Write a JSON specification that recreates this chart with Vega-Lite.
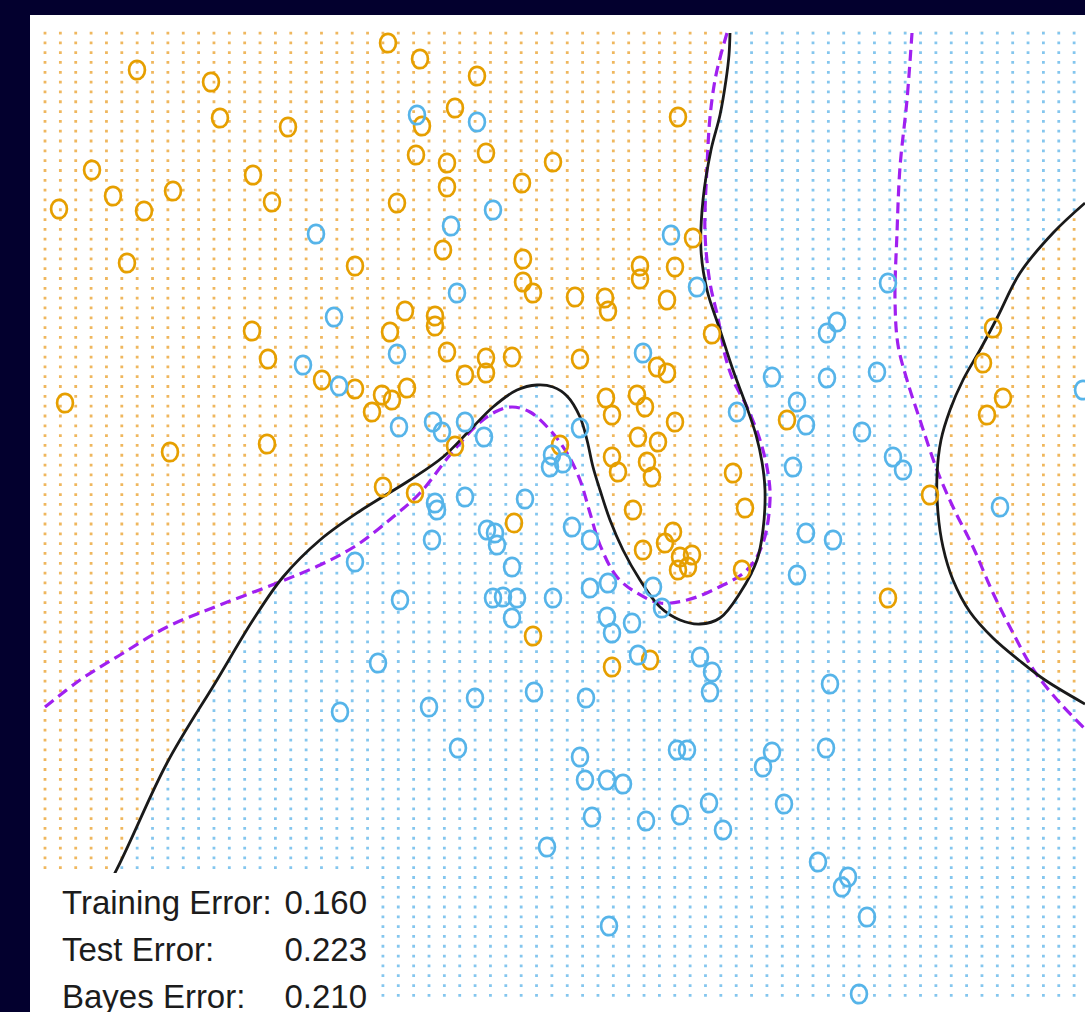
{
  "$schema": "https://vega.github.io/schema/vega-lite/v6.json",
  "width": 1055,
  "height": 997,
  "autosize": {"type": "none"},
  "padding": {"left": 30, "top": 15, "right": 0, "bottom": 0},
  "background": "#03002e",
  "config": {"view": {"fill": "white", "stroke": null}},
  "datasets": {
    "grid": [{"x0": 4.3, "x1": 108.6, "y0": 3.15, "y1": 100.0}],
    "sieve": [{"xa": 3.0, "xb": 108.5, "ya": 1.5, "yb": 101.2, "xm": 55.75, "ym": 51.35}],
    "blueRegion": [
      {"i": 0, "x": 4.8, "y": 100.0}, {"i": 1, "x": 11.7, "y": 86.9}, {"i": 2, "x": 16.7, "y": 76.3},
      {"i": 3, "x": 21.7, "y": 68.0}, {"i": 4, "x": 25.3, "y": 62.0}, {"i": 5, "x": 28.3, "y": 57.7},
      {"i": 6, "x": 32.0, "y": 54.0}, {"i": 7, "x": 36.0, "y": 51.1}, {"i": 8, "x": 41.0, "y": 48.0},
      {"i": 9, "x": 44.3, "y": 45.7}, {"i": 10, "x": 47.0, "y": 43.0}, {"i": 11, "x": 49.3, "y": 40.7},
      {"i": 12, "x": 51.7, "y": 39.0}, {"i": 13, "x": 53.7, "y": 38.5}, {"i": 14, "x": 55.3, "y": 38.7},
      {"i": 15, "x": 56.7, "y": 39.6}, {"i": 16, "x": 58.0, "y": 41.7}, {"i": 17, "x": 58.7, "y": 44.0},
      {"i": 18, "x": 59.3, "y": 46.7}, {"i": 19, "x": 60.0, "y": 49.0}, {"i": 20, "x": 61.0, "y": 52.0},
      {"i": 21, "x": 62.3, "y": 55.0}, {"i": 22, "x": 64.0, "y": 58.0}, {"i": 23, "x": 66.0, "y": 60.7},
      {"i": 24, "x": 68.0, "y": 62.0}, {"i": 25, "x": 70.0, "y": 62.4}, {"i": 26, "x": 72.0, "y": 61.8},
      {"i": 27, "x": 74.0, "y": 59.3}, {"i": 28, "x": 75.7, "y": 56.0}, {"i": 29, "x": 76.3, "y": 53.0},
      {"i": 30, "x": 76.5, "y": 49.0}, {"i": 31, "x": 76.2, "y": 46.2}, {"i": 32, "x": 75.6, "y": 43.5},
      {"i": 33, "x": 74.6, "y": 40.5}, {"i": 34, "x": 73.3, "y": 37.0}, {"i": 35, "x": 72.0, "y": 33.0},
      {"i": 36, "x": 70.7, "y": 29.0}, {"i": 37, "x": 70.1, "y": 25.0}, {"i": 38, "x": 70.3, "y": 20.0},
      {"i": 39, "x": 71.1, "y": 15.0}, {"i": 40, "x": 72.0, "y": 11.5}, {"i": 41, "x": 72.6, "y": 8.0},
      {"i": 42, "x": 72.9, "y": 5.5}, {"i": 43, "x": 73.0, "y": 3.15}, {"i": 44, "x": 108.6, "y": 3.15},
      {"i": 45, "x": 108.6, "y": 20.3}, {"i": 46, "x": 105.3, "y": 23.3}, {"i": 47, "x": 102.0, "y": 27.3},
      {"i": 48, "x": 99.7, "y": 31.8}, {"i": 49, "x": 98.0, "y": 35.0}, {"i": 50, "x": 96.3, "y": 38.0},
      {"i": 51, "x": 95.0, "y": 41.0}, {"i": 52, "x": 94.1, "y": 44.0}, {"i": 53, "x": 93.7, "y": 47.5},
      {"i": 54, "x": 93.8, "y": 51.3}, {"i": 55, "x": 94.3, "y": 54.7}, {"i": 56, "x": 95.3, "y": 58.0},
      {"i": 57, "x": 97.0, "y": 61.2}, {"i": 58, "x": 99.3, "y": 63.8}, {"i": 59, "x": 102.0, "y": 66.1},
      {"i": 60, "x": 104.5, "y": 68.0}, {"i": 61, "x": 108.6, "y": 70.4}, {"i": 62, "x": 108.6, "y": 100.0}
    ],
    "fit": [
      {"seg": "L", "i": 0, "x": 4.8, "y": 100.0}, {"seg": "L", "i": 1, "x": 11.7, "y": 86.9},
      {"seg": "L", "i": 2, "x": 16.7, "y": 76.3}, {"seg": "L", "i": 3, "x": 21.7, "y": 68.0},
      {"seg": "L", "i": 4, "x": 25.3, "y": 62.0}, {"seg": "L", "i": 5, "x": 28.3, "y": 57.7},
      {"seg": "L", "i": 6, "x": 32.0, "y": 54.0}, {"seg": "L", "i": 7, "x": 36.0, "y": 51.1},
      {"seg": "L", "i": 8, "x": 41.0, "y": 48.0}, {"seg": "L", "i": 9, "x": 44.3, "y": 45.7},
      {"seg": "L", "i": 10, "x": 47.0, "y": 43.0}, {"seg": "L", "i": 11, "x": 49.3, "y": 40.7},
      {"seg": "L", "i": 12, "x": 51.7, "y": 39.0}, {"seg": "L", "i": 13, "x": 53.7, "y": 38.5},
      {"seg": "L", "i": 14, "x": 55.3, "y": 38.7}, {"seg": "L", "i": 15, "x": 56.7, "y": 39.6},
      {"seg": "L", "i": 16, "x": 58.0, "y": 41.7}, {"seg": "L", "i": 17, "x": 58.7, "y": 44.0},
      {"seg": "L", "i": 18, "x": 59.3, "y": 46.7}, {"seg": "L", "i": 19, "x": 60.0, "y": 49.0},
      {"seg": "L", "i": 20, "x": 61.0, "y": 52.0}, {"seg": "L", "i": 21, "x": 62.3, "y": 55.0},
      {"seg": "L", "i": 22, "x": 64.0, "y": 58.0}, {"seg": "L", "i": 23, "x": 66.0, "y": 60.7},
      {"seg": "L", "i": 24, "x": 68.0, "y": 62.0}, {"seg": "L", "i": 25, "x": 70.0, "y": 62.4},
      {"seg": "L", "i": 26, "x": 72.0, "y": 61.8}, {"seg": "L", "i": 27, "x": 74.0, "y": 59.3},
      {"seg": "L", "i": 28, "x": 75.7, "y": 56.0}, {"seg": "L", "i": 29, "x": 76.3, "y": 53.0},
      {"seg": "L", "i": 30, "x": 76.5, "y": 49.0}, {"seg": "L", "i": 31, "x": 76.2, "y": 46.2},
      {"seg": "L", "i": 32, "x": 75.6, "y": 43.5}, {"seg": "L", "i": 33, "x": 74.6, "y": 40.5},
      {"seg": "L", "i": 34, "x": 73.3, "y": 37.0}, {"seg": "L", "i": 35, "x": 72.0, "y": 33.0},
      {"seg": "L", "i": 36, "x": 70.7, "y": 29.0}, {"seg": "L", "i": 37, "x": 70.1, "y": 25.0},
      {"seg": "L", "i": 38, "x": 70.3, "y": 20.0}, {"seg": "L", "i": 39, "x": 71.1, "y": 15.0},
      {"seg": "L", "i": 40, "x": 72.0, "y": 11.5}, {"seg": "L", "i": 41, "x": 72.6, "y": 8.0},
      {"seg": "L", "i": 42, "x": 72.9, "y": 5.5}, {"seg": "L", "i": 43, "x": 73.0, "y": 3.3},
      {"seg": "R", "i": 0, "x": 108.5, "y": 20.3}, {"seg": "R", "i": 1, "x": 105.3, "y": 23.3},
      {"seg": "R", "i": 2, "x": 102.0, "y": 27.3}, {"seg": "R", "i": 3, "x": 99.7, "y": 31.8},
      {"seg": "R", "i": 4, "x": 98.0, "y": 35.0}, {"seg": "R", "i": 5, "x": 96.3, "y": 38.0},
      {"seg": "R", "i": 6, "x": 95.0, "y": 41.0}, {"seg": "R", "i": 7, "x": 94.1, "y": 44.0},
      {"seg": "R", "i": 8, "x": 93.7, "y": 47.5}, {"seg": "R", "i": 9, "x": 93.8, "y": 51.3},
      {"seg": "R", "i": 10, "x": 94.3, "y": 54.7}, {"seg": "R", "i": 11, "x": 95.3, "y": 58.0},
      {"seg": "R", "i": 12, "x": 97.0, "y": 61.2}, {"seg": "R", "i": 13, "x": 99.3, "y": 63.8},
      {"seg": "R", "i": 14, "x": 102.0, "y": 66.1}, {"seg": "R", "i": 15, "x": 104.5, "y": 68.0},
      {"seg": "R", "i": 16, "x": 108.5, "y": 70.4}
    ],
    "bayes": [
      {"seg": "L", "i": 0, "x": 4.5, "y": 70.7}, {"seg": "L", "i": 1, "x": 8.0, "y": 68.0},
      {"seg": "L", "i": 2, "x": 12.0, "y": 65.5}, {"seg": "L", "i": 3, "x": 16.7, "y": 62.7},
      {"seg": "L", "i": 4, "x": 22.0, "y": 60.5}, {"seg": "L", "i": 5, "x": 27.7, "y": 58.3},
      {"seg": "L", "i": 6, "x": 32.0, "y": 56.5}, {"seg": "L", "i": 7, "x": 35.7, "y": 54.5},
      {"seg": "L", "i": 8, "x": 39.3, "y": 51.7}, {"seg": "L", "i": 9, "x": 42.0, "y": 49.3},
      {"seg": "L", "i": 10, "x": 45.0, "y": 45.5}, {"seg": "L", "i": 11, "x": 47.7, "y": 42.5},
      {"seg": "L", "i": 12, "x": 49.5, "y": 41.2}, {"seg": "L", "i": 13, "x": 51.2, "y": 40.7},
      {"seg": "L", "i": 14, "x": 53.0, "y": 41.2}, {"seg": "L", "i": 15, "x": 55.0, "y": 43.0},
      {"seg": "L", "i": 16, "x": 56.7, "y": 45.3}, {"seg": "L", "i": 17, "x": 58.0, "y": 48.0},
      {"seg": "L", "i": 18, "x": 59.0, "y": 51.3}, {"seg": "L", "i": 19, "x": 60.0, "y": 54.5},
      {"seg": "L", "i": 20, "x": 61.7, "y": 57.7}, {"seg": "L", "i": 21, "x": 63.7, "y": 59.3},
      {"seg": "L", "i": 22, "x": 66.0, "y": 60.3}, {"seg": "L", "i": 23, "x": 68.7, "y": 60.0},
      {"seg": "L", "i": 24, "x": 71.3, "y": 59.0}, {"seg": "L", "i": 25, "x": 74.7, "y": 57.0},
      {"seg": "L", "i": 26, "x": 76.3, "y": 54.3}, {"seg": "L", "i": 27, "x": 77.0, "y": 50.0},
      {"seg": "L", "i": 28, "x": 76.8, "y": 47.3}, {"seg": "L", "i": 29, "x": 76.0, "y": 44.0},
      {"seg": "L", "i": 30, "x": 74.7, "y": 40.7}, {"seg": "L", "i": 31, "x": 73.3, "y": 38.0},
      {"seg": "L", "i": 32, "x": 72.5, "y": 35.5}, {"seg": "L", "i": 33, "x": 71.8, "y": 31.8},
      {"seg": "L", "i": 34, "x": 71.0, "y": 28.3}, {"seg": "L", "i": 35, "x": 70.5, "y": 23.3},
      {"seg": "L", "i": 36, "x": 70.7, "y": 16.7}, {"seg": "L", "i": 37, "x": 71.0, "y": 11.7},
      {"seg": "L", "i": 38, "x": 71.5, "y": 8.0}, {"seg": "L", "i": 39, "x": 72.0, "y": 5.8},
      {"seg": "L", "i": 40, "x": 72.7, "y": 3.3},
      {"seg": "R", "i": 0, "x": 91.2, "y": 3.3}, {"seg": "R", "i": 1, "x": 90.7, "y": 10.0},
      {"seg": "R", "i": 2, "x": 90.0, "y": 16.7}, {"seg": "R", "i": 3, "x": 89.7, "y": 23.3},
      {"seg": "R", "i": 4, "x": 89.5, "y": 30.0}, {"seg": "R", "i": 5, "x": 89.8, "y": 34.5},
      {"seg": "R", "i": 6, "x": 90.7, "y": 38.0}, {"seg": "R", "i": 7, "x": 92.0, "y": 42.0},
      {"seg": "R", "i": 8, "x": 93.7, "y": 47.0}, {"seg": "R", "i": 9, "x": 95.3, "y": 50.7},
      {"seg": "R", "i": 10, "x": 97.3, "y": 54.7}, {"seg": "R", "i": 11, "x": 99.3, "y": 59.3},
      {"seg": "R", "i": 12, "x": 101.3, "y": 63.3}, {"seg": "R", "i": 13, "x": 103.5, "y": 67.2},
      {"seg": "R", "i": 14, "x": 106.0, "y": 70.3}, {"seg": "R", "i": 15, "x": 108.5, "y": 72.9}
    ],
    "train": [
      {"x": 13.7, "y": 7.0, "c": "orange"}, {"x": 21.1, "y": 8.2, "c": "orange"}, {"x": 22.0, "y": 11.8, "c": "orange"},
      {"x": 28.8, "y": 12.7, "c": "orange"}, {"x": 9.2, "y": 17.0, "c": "orange"}, {"x": 11.3, "y": 19.6, "c": "orange"},
      {"x": 5.9, "y": 20.9, "c": "orange"}, {"x": 14.4, "y": 21.1, "c": "orange"}, {"x": 17.3, "y": 19.1, "c": "orange"},
      {"x": 25.3, "y": 17.5, "c": "orange"}, {"x": 27.2, "y": 20.2, "c": "orange"}, {"x": 12.7, "y": 26.3, "c": "orange"},
      {"x": 35.5, "y": 26.6, "c": "orange"}, {"x": 25.2, "y": 33.1, "c": "orange"}, {"x": 38.8, "y": 4.3, "c": "orange"},
      {"x": 42.0, "y": 5.9, "c": "orange"}, {"x": 47.7, "y": 7.6, "c": "orange"}, {"x": 45.5, "y": 10.8, "c": "orange"},
      {"x": 42.2, "y": 12.6, "c": "orange"}, {"x": 41.6, "y": 15.5, "c": "orange"}, {"x": 44.7, "y": 16.3, "c": "orange"},
      {"x": 48.6, "y": 15.3, "c": "orange"}, {"x": 55.3, "y": 16.2, "c": "orange"}, {"x": 44.7, "y": 18.7, "c": "orange"},
      {"x": 52.2, "y": 18.3, "c": "orange"}, {"x": 39.7, "y": 20.3, "c": "orange"}, {"x": 44.3, "y": 25.0, "c": "orange"},
      {"x": 52.3, "y": 25.9, "c": "orange"}, {"x": 52.3, "y": 28.2, "c": "orange"}, {"x": 53.3, "y": 29.3, "c": "orange"},
      {"x": 57.5, "y": 29.7, "c": "orange"}, {"x": 60.5, "y": 29.8, "c": "orange"}, {"x": 60.8, "y": 31.1, "c": "orange"},
      {"x": 64.0, "y": 26.6, "c": "orange"}, {"x": 64.0, "y": 27.9, "c": "orange"}, {"x": 67.5, "y": 26.7, "c": "orange"},
      {"x": 66.7, "y": 30.0, "c": "orange"}, {"x": 67.8, "y": 11.7, "c": "orange"}, {"x": 69.3, "y": 23.8, "c": "orange"},
      {"x": 40.5, "y": 31.1, "c": "orange"}, {"x": 43.5, "y": 31.6, "c": "orange"}, {"x": 43.5, "y": 32.6, "c": "orange"},
      {"x": 39.0, "y": 33.2, "c": "orange"}, {"x": 71.2, "y": 33.4, "c": "orange"}, {"x": 26.8, "y": 35.9, "c": "orange"},
      {"x": 6.5, "y": 40.3, "c": "orange"}, {"x": 17.0, "y": 45.2, "c": "orange"}, {"x": 26.7, "y": 44.4, "c": "orange"},
      {"x": 32.2, "y": 38.0, "c": "orange"}, {"x": 35.5, "y": 38.9, "c": "orange"}, {"x": 37.2, "y": 41.2, "c": "orange"},
      {"x": 38.2, "y": 39.5, "c": "orange"}, {"x": 39.2, "y": 40.0, "c": "orange"}, {"x": 40.7, "y": 38.8, "c": "orange"},
      {"x": 44.7, "y": 35.2, "c": "orange"}, {"x": 46.5, "y": 37.5, "c": "orange"}, {"x": 48.6, "y": 35.8, "c": "orange"},
      {"x": 48.6, "y": 37.3, "c": "orange"}, {"x": 51.2, "y": 35.7, "c": "orange"}, {"x": 58.0, "y": 35.9, "c": "orange"},
      {"x": 65.7, "y": 36.7, "c": "orange"}, {"x": 66.7, "y": 37.3, "c": "orange"}, {"x": 60.6, "y": 39.8, "c": "orange"},
      {"x": 61.2, "y": 41.5, "c": "orange"}, {"x": 63.7, "y": 39.5, "c": "orange"}, {"x": 64.5, "y": 40.7, "c": "orange"},
      {"x": 67.5, "y": 42.2, "c": "orange"}, {"x": 63.8, "y": 43.7, "c": "orange"}, {"x": 65.8, "y": 44.2, "c": "orange"},
      {"x": 61.2, "y": 45.7, "c": "orange"}, {"x": 61.8, "y": 47.2, "c": "orange"}, {"x": 64.7, "y": 46.2, "c": "orange"},
      {"x": 65.2, "y": 47.7, "c": "orange"}, {"x": 45.5, "y": 44.6, "c": "orange"}, {"x": 56.0, "y": 44.5, "c": "orange"},
      {"x": 38.3, "y": 48.7, "c": "orange"}, {"x": 41.5, "y": 49.3, "c": "orange"}, {"x": 51.4, "y": 52.3, "c": "orange"},
      {"x": 63.3, "y": 51.0, "c": "orange"}, {"x": 67.3, "y": 53.2, "c": "orange"}, {"x": 66.5, "y": 54.3, "c": "orange"},
      {"x": 64.3, "y": 55.0, "c": "orange"}, {"x": 68.0, "y": 55.7, "c": "orange"}, {"x": 69.2, "y": 55.5, "c": "orange"},
      {"x": 68.8, "y": 56.7, "c": "orange"}, {"x": 67.8, "y": 57.0, "c": "orange"}, {"x": 53.3, "y": 63.6, "c": "orange"},
      {"x": 61.2, "y": 66.7, "c": "orange"}, {"x": 65.0, "y": 66.0, "c": "orange"}, {"x": 73.3, "y": 47.3, "c": "orange"},
      {"x": 74.5, "y": 50.8, "c": "orange"}, {"x": 74.2, "y": 57.0, "c": "orange"}, {"x": 78.7, "y": 42.0, "c": "orange"},
      {"x": 93.0, "y": 49.5, "c": "orange"}, {"x": 88.8, "y": 59.8, "c": "orange"}, {"x": 99.3, "y": 32.8, "c": "orange"},
      {"x": 98.3, "y": 36.3, "c": "orange"}, {"x": 100.3, "y": 39.8, "c": "orange"}, {"x": 98.7, "y": 41.5, "c": "orange"},
      {"x": 31.6, "y": 23.4, "c": "blue"}, {"x": 33.4, "y": 31.7, "c": "blue"}, {"x": 41.7, "y": 11.5, "c": "blue"},
      {"x": 47.7, "y": 12.2, "c": "blue"}, {"x": 49.3, "y": 21.0, "c": "blue"}, {"x": 45.1, "y": 22.6, "c": "blue"},
      {"x": 45.7, "y": 29.3, "c": "blue"}, {"x": 67.1, "y": 23.5, "c": "blue"}, {"x": 69.7, "y": 28.7, "c": "blue"},
      {"x": 30.3, "y": 36.5, "c": "blue"}, {"x": 33.9, "y": 38.6, "c": "blue"}, {"x": 39.7, "y": 35.4, "c": "blue"},
      {"x": 64.3, "y": 35.3, "c": "blue"}, {"x": 39.9, "y": 42.7, "c": "blue"}, {"x": 43.3, "y": 42.2, "c": "blue"},
      {"x": 44.2, "y": 43.2, "c": "blue"}, {"x": 46.5, "y": 42.2, "c": "blue"}, {"x": 48.4, "y": 43.7, "c": "blue"},
      {"x": 58.0, "y": 42.8, "c": "blue"}, {"x": 55.2, "y": 45.5, "c": "blue"}, {"x": 55.0, "y": 46.7, "c": "blue"},
      {"x": 56.3, "y": 46.3, "c": "blue"}, {"x": 43.5, "y": 50.3, "c": "blue"}, {"x": 43.7, "y": 51.0, "c": "blue"},
      {"x": 46.5, "y": 49.7, "c": "blue"}, {"x": 52.5, "y": 49.9, "c": "blue"}, {"x": 43.2, "y": 54.0, "c": "blue"},
      {"x": 48.7, "y": 53.0, "c": "blue"}, {"x": 49.5, "y": 53.3, "c": "blue"}, {"x": 49.7, "y": 54.5, "c": "blue"},
      {"x": 57.2, "y": 52.7, "c": "blue"}, {"x": 59.0, "y": 54.0, "c": "blue"}, {"x": 51.2, "y": 56.7, "c": "blue"},
      {"x": 35.5, "y": 56.2, "c": "blue"}, {"x": 40.0, "y": 60.0, "c": "blue"}, {"x": 49.3, "y": 59.8, "c": "blue"},
      {"x": 50.3, "y": 59.7, "c": "blue"}, {"x": 51.7, "y": 59.8, "c": "blue"}, {"x": 51.2, "y": 61.8, "c": "blue"},
      {"x": 55.3, "y": 59.8, "c": "blue"}, {"x": 59.0, "y": 58.8, "c": "blue"}, {"x": 60.8, "y": 58.3, "c": "blue"},
      {"x": 65.3, "y": 58.7, "c": "blue"}, {"x": 60.7, "y": 61.7, "c": "blue"}, {"x": 61.2, "y": 63.3, "c": "blue"},
      {"x": 63.2, "y": 62.3, "c": "blue"}, {"x": 66.2, "y": 60.8, "c": "blue"}, {"x": 37.8, "y": 66.3, "c": "blue"},
      {"x": 63.8, "y": 65.5, "c": "blue"}, {"x": 70.0, "y": 65.7, "c": "blue"}, {"x": 71.2, "y": 67.2, "c": "blue"},
      {"x": 71.0, "y": 69.2, "c": "blue"}, {"x": 34.0, "y": 71.2, "c": "blue"}, {"x": 42.9, "y": 70.7, "c": "blue"},
      {"x": 47.5, "y": 69.8, "c": "blue"}, {"x": 53.4, "y": 69.2, "c": "blue"}, {"x": 58.6, "y": 69.8, "c": "blue"},
      {"x": 45.8, "y": 74.8, "c": "blue"}, {"x": 58.0, "y": 75.7, "c": "blue"}, {"x": 67.7, "y": 75.0, "c": "blue"},
      {"x": 68.7, "y": 75.0, "c": "blue"}, {"x": 58.5, "y": 78.0, "c": "blue"}, {"x": 60.7, "y": 78.0, "c": "blue"},
      {"x": 62.3, "y": 78.4, "c": "blue"}, {"x": 70.9, "y": 80.3, "c": "blue"}, {"x": 59.2, "y": 81.7, "c": "blue"},
      {"x": 64.6, "y": 82.1, "c": "blue"}, {"x": 68.0, "y": 81.5, "c": "blue"}, {"x": 72.3, "y": 83.0, "c": "blue"},
      {"x": 54.7, "y": 84.7, "c": "blue"}, {"x": 60.9, "y": 92.6, "c": "blue"}, {"x": 83.0, "y": 68.4, "c": "blue"},
      {"x": 82.6, "y": 74.8, "c": "blue"}, {"x": 77.2, "y": 75.2, "c": "blue"}, {"x": 76.3, "y": 76.7, "c": "blue"},
      {"x": 78.4, "y": 80.4, "c": "blue"}, {"x": 81.8, "y": 86.2, "c": "blue"}, {"x": 84.8, "y": 87.7, "c": "blue"},
      {"x": 84.2, "y": 88.7, "c": "blue"}, {"x": 86.7, "y": 91.7, "c": "blue"}, {"x": 85.9, "y": 99.4, "c": "blue"},
      {"x": 88.8, "y": 28.3, "c": "blue"}, {"x": 83.7, "y": 32.2, "c": "blue"}, {"x": 82.7, "y": 33.3, "c": "blue"},
      {"x": 77.2, "y": 37.7, "c": "blue"}, {"x": 82.7, "y": 37.8, "c": "blue"}, {"x": 87.7, "y": 37.2, "c": "blue"},
      {"x": 73.7, "y": 41.2, "c": "blue"}, {"x": 79.7, "y": 40.2, "c": "blue"}, {"x": 80.6, "y": 42.5, "c": "blue"},
      {"x": 86.2, "y": 43.2, "c": "blue"}, {"x": 89.3, "y": 45.7, "c": "blue"}, {"x": 90.3, "y": 47.0, "c": "blue"},
      {"x": 79.3, "y": 46.7, "c": "blue"}, {"x": 100.0, "y": 50.7, "c": "blue"}, {"x": 80.6, "y": 53.3, "c": "blue"},
      {"x": 83.3, "y": 54.0, "c": "blue"}, {"x": 79.7, "y": 57.5, "c": "blue"}, {"x": 108.3, "y": 39.0, "c": "blue"}
    ],
    "noteBox": [{"x0": 3.0, "x1": 37.8, "y0": 87.3, "y1": 101.2}],
    "errors": [
      {"label": "Training Error:", "value": "0.160", "xl": 6.2, "xr": 36.7, "y": 91.4},
      {"label": "Test Error:", "value": "0.223", "xl": 6.2, "xr": 36.7, "y": 96.1},
      {"label": "Bayes Error:", "value": "0.210", "xl": 6.2, "xr": 36.7, "y": 100.8}
    ]
  },
  "layer": [
    {
      "data": {"name": "grid"},
      "mark": {"type": "rect", "color": "#EFB75E"},
      "encoding": {
        "x": {"field": "x0", "type": "quantitative", "axis": null, "scale": {"domain": [3.0, 108.5], "nice": false, "zero": false}},
        "x2": {"field": "x1"},
        "y": {"field": "y0", "type": "quantitative", "axis": null, "scale": {"domain": [1.5, 101.2], "nice": false, "zero": false, "reverse": true}},
        "y2": {"field": "y1"}
      }
    },
    {
      "data": {"name": "blueRegion"},
      "mark": {"type": "line", "fill": "#84C6EE", "stroke": "#84C6EE", "strokeWidth": 0, "interpolate": "linear"},
      "encoding": {
        "x": {"field": "x", "type": "quantitative"},
        "y": {"field": "y", "type": "quantitative"},
        "order": {"field": "i", "type": "quantitative"}
      }
    },
    {
      "data": {"name": "sieve"},
      "mark": {"type": "rule", "color": "white", "strokeWidth": 1055, "strokeCap": "butt", "strokeDash": [7.02, 2.8], "strokeDashOffset": 0.24},
      "encoding": {
        "x": {"field": "xm", "type": "quantitative"},
        "y": {"field": "ya", "type": "quantitative"},
        "y2": {"field": "yb"}
      }
    },
    {
      "data": {"name": "sieve"},
      "mark": {"type": "rule", "color": "white", "strokeWidth": 997, "strokeCap": "butt", "strokeDash": [12.56, 2.8], "strokeDashOffset": 14.32},
      "encoding": {
        "x": {"field": "xa", "type": "quantitative"},
        "x2": {"field": "xb"},
        "y": {"field": "ym", "type": "quantitative"}
      }
    },
    {
      "data": {"name": "bayes"},
      "mark": {"type": "line", "color": "#A020F0", "strokeWidth": 3.2, "strokeDash": [11, 6], "interpolate": "catmull-rom"},
      "encoding": {
        "x": {"field": "x", "type": "quantitative"},
        "y": {"field": "y", "type": "quantitative"},
        "detail": {"field": "seg"},
        "order": {"field": "i", "type": "quantitative"}
      }
    },
    {
      "data": {"name": "fit"},
      "mark": {"type": "line", "color": "#1a1a1a", "strokeWidth": 2.8, "interpolate": "catmull-rom"},
      "encoding": {
        "x": {"field": "x", "type": "quantitative"},
        "y": {"field": "y", "type": "quantitative"},
        "detail": {"field": "seg"},
        "order": {"field": "i", "type": "quantitative"}
      }
    },
    {
      "data": {"name": "train"},
      "mark": {"type": "point", "filled": false, "shape": "M-0.86,0A0.86,1,0,1,1,0.86,0A0.86,1,0,1,1,-0.86,0Z", "size": 340, "strokeWidth": 2.7, "opacity": 1},
      "encoding": {
        "x": {"field": "x", "type": "quantitative"},
        "y": {"field": "y", "type": "quantitative"},
        "color": {"field": "c", "type": "nominal", "legend": null, "scale": {"domain": ["orange", "blue"], "range": ["#E69F00", "#56B4E9"]}}
      }
    },
    {
      "data": {"name": "noteBox"},
      "mark": {"type": "rect", "color": "white"},
      "encoding": {
        "x": {"field": "x0", "type": "quantitative"},
        "x2": {"field": "x1"},
        "y": {"field": "y0", "type": "quantitative"},
        "y2": {"field": "y1"}
      }
    },
    {
      "data": {"name": "errors"},
      "mark": {"type": "text", "align": "left", "baseline": "alphabetic", "font": "Liberation Sans", "fontSize": 33, "color": "#1c1c1c"},
      "encoding": {
        "x": {"field": "xl", "type": "quantitative"},
        "y": {"field": "y", "type": "quantitative"},
        "text": {"field": "label"}
      }
    },
    {
      "data": {"name": "errors"},
      "mark": {"type": "text", "align": "right", "baseline": "alphabetic", "font": "Liberation Sans", "fontSize": 33, "color": "#1c1c1c"},
      "encoding": {
        "x": {"field": "xr", "type": "quantitative"},
        "y": {"field": "y", "type": "quantitative"},
        "text": {"field": "value"}
      }
    }
  ]
}
